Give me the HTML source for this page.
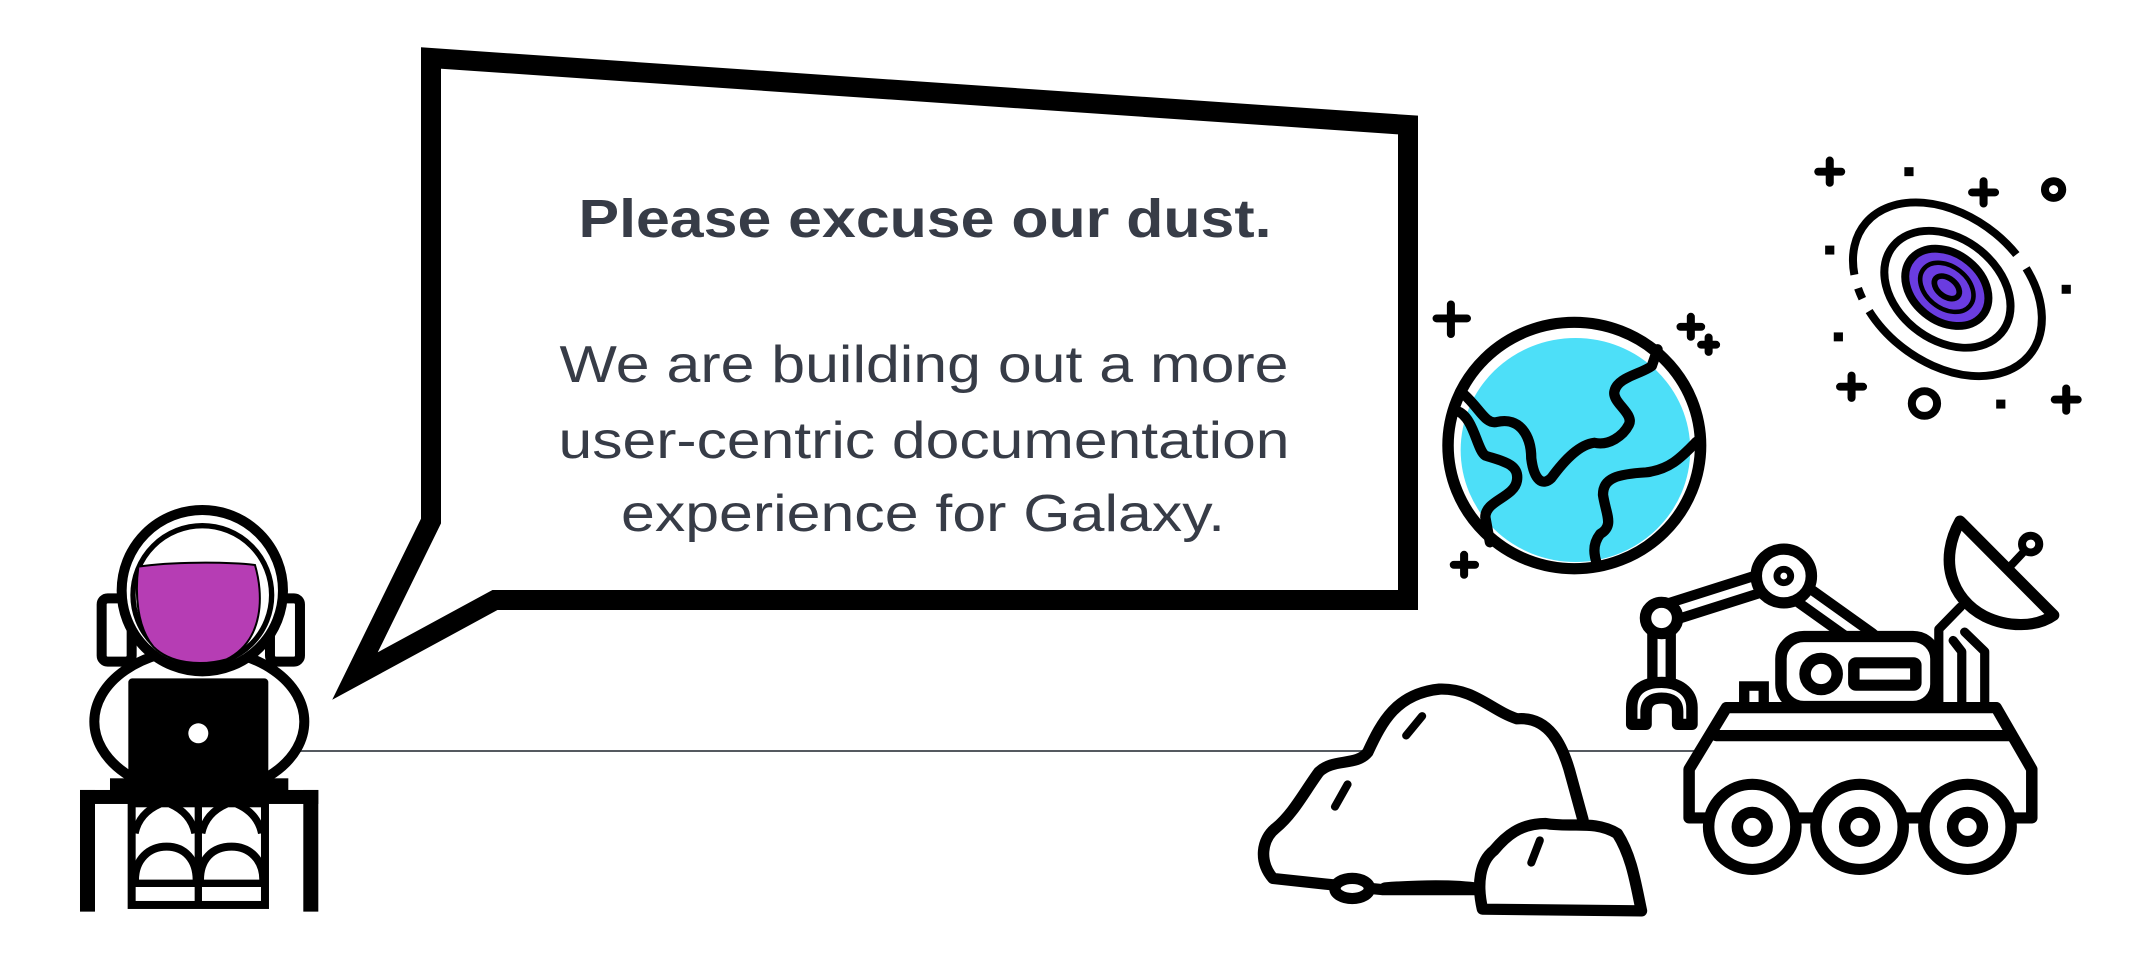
<!DOCTYPE html>
<html><head><meta charset="utf-8"><style>
html,body{margin:0;padding:0;background:#fff;}
svg{display:block;}
</style></head><body>
<svg width="2150" height="978" viewBox="0 0 2150 978" xmlns="http://www.w3.org/2000/svg">
<rect width="2150" height="978" fill="#fff"/>
<line x1="300" y1="751" x2="1700" y2="751" stroke="#555a60" stroke-width="2"/>

<polygon points="431,58 1408,125 1408,600 495,600 355,676 431,521" fill="#fff" stroke="#000" stroke-width="20" stroke-linejoin="miter"/>
<g font-family="Liberation Sans, sans-serif" fill="#373c47" text-anchor="middle">
<text x="925" y="237" font-size="54" font-weight="bold" textLength="693" lengthAdjust="spacingAndGlyphs">Please excuse our dust.</text>
<text x="924" y="382" font-size="52" textLength="729" lengthAdjust="spacingAndGlyphs">We are building out a more</text>
<text x="924" y="458" font-size="52" textLength="731" lengthAdjust="spacingAndGlyphs">user-centric documentation</text>
<text x="923" y="531" font-size="52" textLength="604" lengthAdjust="spacingAndGlyphs">experience for Galaxy.</text>
</g>

<g transform="translate(60,500) scale(0.3333)" stroke="#000" stroke-width="30" fill="#fff">
<rect x="125" y="295" width="90" height="190" rx="18"/>
<rect x="630" y="295" width="90" height="190" rx="18"/>
<ellipse cx="418" cy="665" rx="315" ry="218"/>
<circle cx="427" cy="272" r="242"/>
<circle cx="427" cy="285" r="208" stroke-width="16"/>
<path d="M235,200 C330,185 500,185 585,195 C610,280 615,420 500,478 C420,500 330,490 280,440 C230,380 225,280 235,200Z" fill="#b63db4" stroke="#000" stroke-width="6"/>
<rect x="205" y="535" width="420" height="310" rx="12" fill="#000" stroke="none"/>
<circle cx="415" cy="700" r="30" fill="#fff" stroke="none"/>
<rect x="150" y="835" width="535" height="40" fill="#000" stroke="none"/>
<rect x="60" y="870" width="715" height="42" fill="#000" stroke="none"/>
<rect x="60" y="870" width="45" height="365" fill="#000" stroke="none"/>
<rect x="730" y="870" width="45" height="365" fill="#000" stroke="none"/>
<rect x="215" y="910" width="400" height="305" stroke-width="24"/>
<line x1="415" y1="910" x2="415" y2="1215" stroke-width="22"/>
<path d="M225,1000 C235,950 270,925 300,912 M405,1000 C395,950 360,925 330,912 M425,1000 C435,950 470,925 500,912 M605,1000 C595,950 560,925 530,912" fill="none" stroke-width="22"/>
<path d="M225,1140 C225,1080 265,1040 320,1040 C375,1040 410,1080 410,1140 M420,1140 C420,1080 455,1040 515,1040 C570,1040 610,1080 610,1140" fill="none" stroke-width="24"/>
<line x1="215" y1="1150" x2="615" y2="1150" stroke-width="22"/>
</g>

<g transform="translate(1250,100) scale(0.574,0.56)" stroke="#000" stroke-linecap="round" stroke-linejoin="round">
<circle cx="565" cy="617" r="220" fill="#fff" stroke-width="20"/>
<circle cx="567" cy="625" r="200" fill="#4ddff8" stroke="none"/>
<g fill="none" stroke-width="18">
<path d="M372,525 C400,550 410,580 430,575 C470,565 490,600 490,640 C495,680 510,690 525,675 C550,640 575,615 600,612 C625,618 650,600 660,580 C670,560 630,540 635,520 C640,495 680,490 700,475 L710,445"/>
<path d="M360,555 C390,565 395,625 410,635 C440,645 470,650 465,680 C460,710 410,715 410,745 L418,790"/>
<path d="M778,610 C750,640 730,660 690,665 C640,668 615,675 615,705 C620,740 635,760 610,775 C595,795 600,815 605,830"/>
</g>
<g fill="none" stroke-width="14">
<path d="M325,390 H378 M350,365 V418"/>
<path d="M750,405 H786 M768,387 V423"/>
<path d="M786,437 H812 M799,424 V450"/>
<path d="M355,830 H392 M373,812 V848"/>
<path d="M990,128 H1030 M1010,108 V148"/>
<path d="M1258,165 H1298 M1278,145 V185"/>
<path d="M1028,512 H1068 M1048,492 V532"/>
<path d="M1402,535 H1442 M1422,515 V555"/>
<circle cx="1400" cy="160" r="15"/>
<circle cx="1175" cy="542" r="22"/>
</g>
<g fill="#000" stroke="none">
<rect x="1140" y="120" width="16" height="16"/>
<rect x="1002" y="260" width="16" height="16"/>
<rect x="1414" y="330" width="16" height="16"/>
<rect x="1017" y="415" width="16" height="16"/>
<rect x="1300" y="535" width="16" height="16"/>
</g>
<g transform="rotate(40 1215 338)" fill="none">
<ellipse cx="1215" cy="338" rx="185" ry="130" stroke-width="14" stroke-dasharray="330 25 20 25 400 30 200 25" stroke-linecap="butt"/>
<ellipse cx="1215" cy="338" rx="122" ry="90" stroke-width="14"/>
<ellipse cx="1212" cy="336" rx="80" ry="60" fill="#6a3ce0" stroke-width="14"/>
<ellipse cx="1212" cy="336" rx="52" ry="37" stroke-width="8"/>
<ellipse cx="1212" cy="336" rx="25" ry="16" stroke-width="10"/>
</g>
<g fill="#fff" stroke-width="20">
<path d="M40,1390 C15,1360 20,1320 45,1300 C75,1275 95,1235 120,1200 C145,1175 185,1190 205,1165 C230,1110 255,1060 330,1052 C390,1050 420,1090 465,1105 C520,1100 545,1150 560,1210 L580,1285 L570,1410 L230,1410 L130,1400 Z"/>
<path d="M235,1407 C300,1402 360,1402 400,1408" fill="none"/>
<path d="M405,1445 C395,1400 400,1360 425,1340 C445,1315 470,1292 515,1292 C560,1300 600,1285 640,1310 C665,1350 672,1400 682,1448 Z"/>
<ellipse cx="178" cy="1408" rx="30" ry="18"/>
</g>
<g fill="none" stroke-width="14">
<path d="M272,1135 L300,1100"/><path d="M148,1262 L170,1222"/><path d="M490,1362 L505,1322"/>
</g>
<g fill="#fff" stroke-width="20">
<path d="M930,850 L715,920" stroke-width="50"/>
<path d="M930,850 L715,920" stroke="#fff" stroke-width="14"/>
<path d="M945,870 L1075,965" stroke-width="50"/>
<path d="M945,870 L1075,965" stroke="#fff" stroke-width="14"/>
<path d="M717,950 L717,1040" stroke-width="50"/>
<path d="M717,950 L717,1040" stroke="#fff" stroke-width="14"/>
<path d="M665,1115 L665,1085 C665,1050 690,1040 717,1040 C745,1040 770,1055 770,1085 L770,1115 L745,1115 L745,1092 C745,1075 735,1068 717,1068 C700,1068 690,1075 690,1092 L690,1115 Z"/>
<circle cx="717" cy="925" r="28"/>
<circle cx="930" cy="850" r="48"/>
<circle cx="930" cy="850" r="12" stroke-width="12"/>
<path d="M1200,1080 L1200,945 L1238,905 M1240,1080 L1240,985 L1225,965 M1280,1080 L1280,985 L1245,950" fill="none" stroke-width="16"/>
<path d="M1237,752 L1400,920 C1370,942 1320,942 1280,922 C1220,890 1200,820 1237,752 Z"/>
<path d="M1325,832 L1358,796" fill="none" stroke-width="14"/>
<circle cx="1360" cy="793" r="15" stroke-width="14"/>
<rect x="925" y="958" width="270" height="125" rx="40"/>
<circle cx="995" cy="1025" r="28"/>
<rect x="1052" y="1005" width="108" height="40" rx="4"/>
<rect x="852" y="1038" width="52" height="45" fill="#000" stroke="none"/>
<rect x="870" y="1055" width="16" height="20" fill="#fff" stroke="none"/>
<path d="M830,1085 L1300,1085 L1362,1195 L1362,1282 L765,1282 L765,1195 Z"/>
<line x1="812" y1="1135" x2="1322" y2="1135"/>
<circle cx="875" cy="1298" r="76"/>
<circle cx="875" cy="1298" r="26"/>
<circle cx="1062" cy="1298" r="76"/>
<circle cx="1062" cy="1298" r="26"/>
<circle cx="1250" cy="1298" r="76"/>
<circle cx="1250" cy="1298" r="26"/>
</g>
</g>
</svg>
</body></html>
